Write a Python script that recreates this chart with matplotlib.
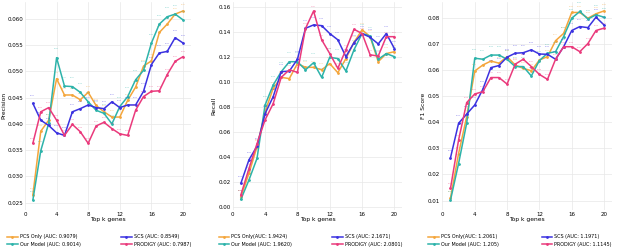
import numpy as np
import matplotlib
matplotlib.use('Agg')
import matplotlib.pyplot as plt

top_k = list(range(1, 21))

# Precision
prec_pcs = [0.0265, 0.0386, 0.0407, 0.0486, 0.0455, 0.0455, 0.0446, 0.0460, 0.0435, 0.0423,
            0.0413, 0.0413, 0.0445, 0.0470, 0.0510, 0.0520, 0.0574, 0.0590, 0.0609, 0.0615]
prec_ours = [0.0255, 0.0349, 0.0401, 0.0526, 0.0472, 0.0471, 0.0460, 0.0442, 0.0426, 0.0420,
             0.0400, 0.0433, 0.0452, 0.0484, 0.0502, 0.0554, 0.0590, 0.0604, 0.0609, 0.0598]
prec_scs = [0.0439, 0.0407, 0.0397, 0.0383, 0.0378, 0.0423, 0.0429, 0.0436, 0.0431, 0.0429,
            0.0442, 0.0431, 0.0436, 0.0436, 0.0462, 0.0513, 0.0535, 0.0538, 0.0564, 0.0554]
prec_prodigy = [0.0363, 0.0423, 0.0431, 0.0407, 0.0378, 0.0399, 0.0385, 0.0363, 0.0396, 0.0403,
                0.0391, 0.0381, 0.0378, 0.0426, 0.0452, 0.0462, 0.0463, 0.0494, 0.0519, 0.0528]

# Recall
rec_pcs = [0.0085, 0.0272, 0.0485, 0.0765, 0.0952, 0.1040, 0.1030, 0.1150, 0.1120, 0.1120,
           0.1100, 0.1150, 0.1077, 0.1190, 0.1320, 0.1420, 0.1365, 0.1165, 0.1230, 0.1245]
rec_ours = [0.0064, 0.0219, 0.0392, 0.0819, 0.0979, 0.1085, 0.1165, 0.1165, 0.1100, 0.1157,
            0.1040, 0.1200, 0.1190, 0.1090, 0.1260, 0.1390, 0.1370, 0.1184, 0.1230, 0.1205]
rec_scs = [0.0192, 0.0380, 0.0490, 0.0750, 0.0885, 0.1085, 0.1090, 0.1184, 0.1432, 0.1459,
           0.1453, 0.1390, 0.1340, 0.1205, 0.1317, 0.1390, 0.1360, 0.1307, 0.1390, 0.1270]
rec_prodigy = [0.0100, 0.0310, 0.0510, 0.0700, 0.0830, 0.1040, 0.1100, 0.1080, 0.1430, 0.1570,
               0.1340, 0.1230, 0.1112, 0.1260, 0.1424, 0.1390, 0.1220, 0.1210, 0.1365, 0.1365]

# F1 score
f1_pcs = [0.0110, 0.0280, 0.0421, 0.0596, 0.0619, 0.0634, 0.0626, 0.0651, 0.0619, 0.0606,
          0.0597, 0.0638, 0.0651, 0.0712, 0.0740, 0.0820, 0.0820, 0.0798, 0.0815, 0.0826]
f1_ours = [0.0102, 0.0242, 0.0396, 0.0645, 0.0641, 0.0657, 0.0657, 0.0641, 0.0613, 0.0613,
           0.0577, 0.0636, 0.0664, 0.0670, 0.0728, 0.0798, 0.0824, 0.0795, 0.0811, 0.0802]
f1_scs = [0.0264, 0.0396, 0.0431, 0.0466, 0.0526, 0.0609, 0.0617, 0.0649, 0.0664, 0.0666,
          0.0677, 0.0661, 0.0660, 0.0641, 0.0689, 0.0751, 0.0766, 0.0762, 0.0802, 0.0772]
f1_prodigy = [0.0147, 0.0332, 0.0475, 0.0508, 0.0517, 0.0571, 0.0571, 0.0546, 0.0622, 0.0641,
              0.0613, 0.0583, 0.0564, 0.0641, 0.0689, 0.0689, 0.0670, 0.0701, 0.0751, 0.0760]

labels_prec = ['PCS Only (AUC: 0.9079)', 'Our Model (AUC: 0.9014)',
               'SCS (AUC: 0.8549)', 'PRODIGY (AUC: 0.7987)']
labels_rec = ['PCS Only(AUC: 1.9424)', 'Our Model (AUC: 1.9620)',
              'SCS (AUC: 2.1671)', 'PRODIGY (AUC: 2.0801)']
labels_f1 = ['PCS Only(AUC: 1.2061)', 'Our Model (AUC: 1.205)',
             'SCS (AUC: 1.1971)', 'PRODIGY (AUC: 1.1145)']

colors = ['#F4A63C', '#2DB3AA', '#3B32E0', '#EA3A7C']
label_offsets = [4, 6, 5, 3]


def draw_panel(ax, series, labels, ylabel, yticks, fmt, leg_box):
    for vals, lab, col, off in zip(series, labels, colors, label_offsets):
        ax.plot(top_k, vals, color=col, lw=1.1, marker='o', markersize=1.0,
                label=lab, zorder=3)
        # tiny value labels above each point
        for k, v in zip(top_k, vals):
            ax.annotate(fmt.format(v), (k, v), xytext=(0, off),
                        textcoords='offset points', ha='center',
                        fontsize=1.3, color=col, alpha=0.6)

    ax.set_xlim(0, 21)
    ax.set_xticks([0, 4, 8, 12, 16, 20])
    ax.set_yticks(yticks)
    ax.grid(True, color='#e8e8e8', lw=0.5)
    ax.set_axisbelow(True)
    for s in ax.spines.values():
        s.set_visible(False)
    ax.tick_params(length=0, labelsize=4, pad=1.5)
    ax.set_xlabel('Top k genes', fontsize=4.3, labelpad=0.5)
    ax.set_ylabel(ylabel, fontsize=4.3, labelpad=1.5)
    ax.legend(loc='upper left', bbox_to_anchor=leg_box,
              mode='expand', ncol=2, frameon=False, fontsize=3.5,
              borderaxespad=0, handlelength=2.2, handletextpad=0.4,
              labelspacing=0.5)


def main():
    fig = plt.figure(figsize=(6.24, 2.5), dpi=100)
    bottom = 0.162
    height = 0.832

    ax1 = fig.add_axes([0.040, bottom, 0.266, height])
    draw_panel(ax1, [prec_pcs, prec_ours, prec_scs, prec_prodigy], labels_prec,
               'Precision', np.arange(0.025, 0.0601, 0.005), '{:.3f}',
               (-0.12, -0.11, 1.133, 0))
    ax1.set_ylim(0.0237, 0.0633)
    ax1.yaxis.set_label_coords(-0.112, 0.5)

    ax2 = fig.add_axes([0.373, bottom, 0.272, height])
    draw_panel(ax2, [rec_pcs, rec_ours, rec_scs, rec_prodigy], labels_rec,
               'Recall', np.arange(0.0, 0.161, 0.02), '{:.3f}',
               (-0.094, -0.11, 1.104, 0))
    ax2.set_ylim(-0.0016, 0.1646)

    ax3 = fig.add_axes([0.709, bottom, 0.272, height])
    draw_panel(ax3, [f1_pcs, f1_ours, f1_scs, f1_prodigy], labels_f1,
               'F1 Score', np.arange(0.01, 0.0801, 0.01), '{:.3f}',
               (-0.094, -0.11, 1.104, 0))
    ax3.set_ylim(0.0066, 0.0862)

    fig.savefig('out.png', dpi=100)


if __name__ == '__main__':
    main()
